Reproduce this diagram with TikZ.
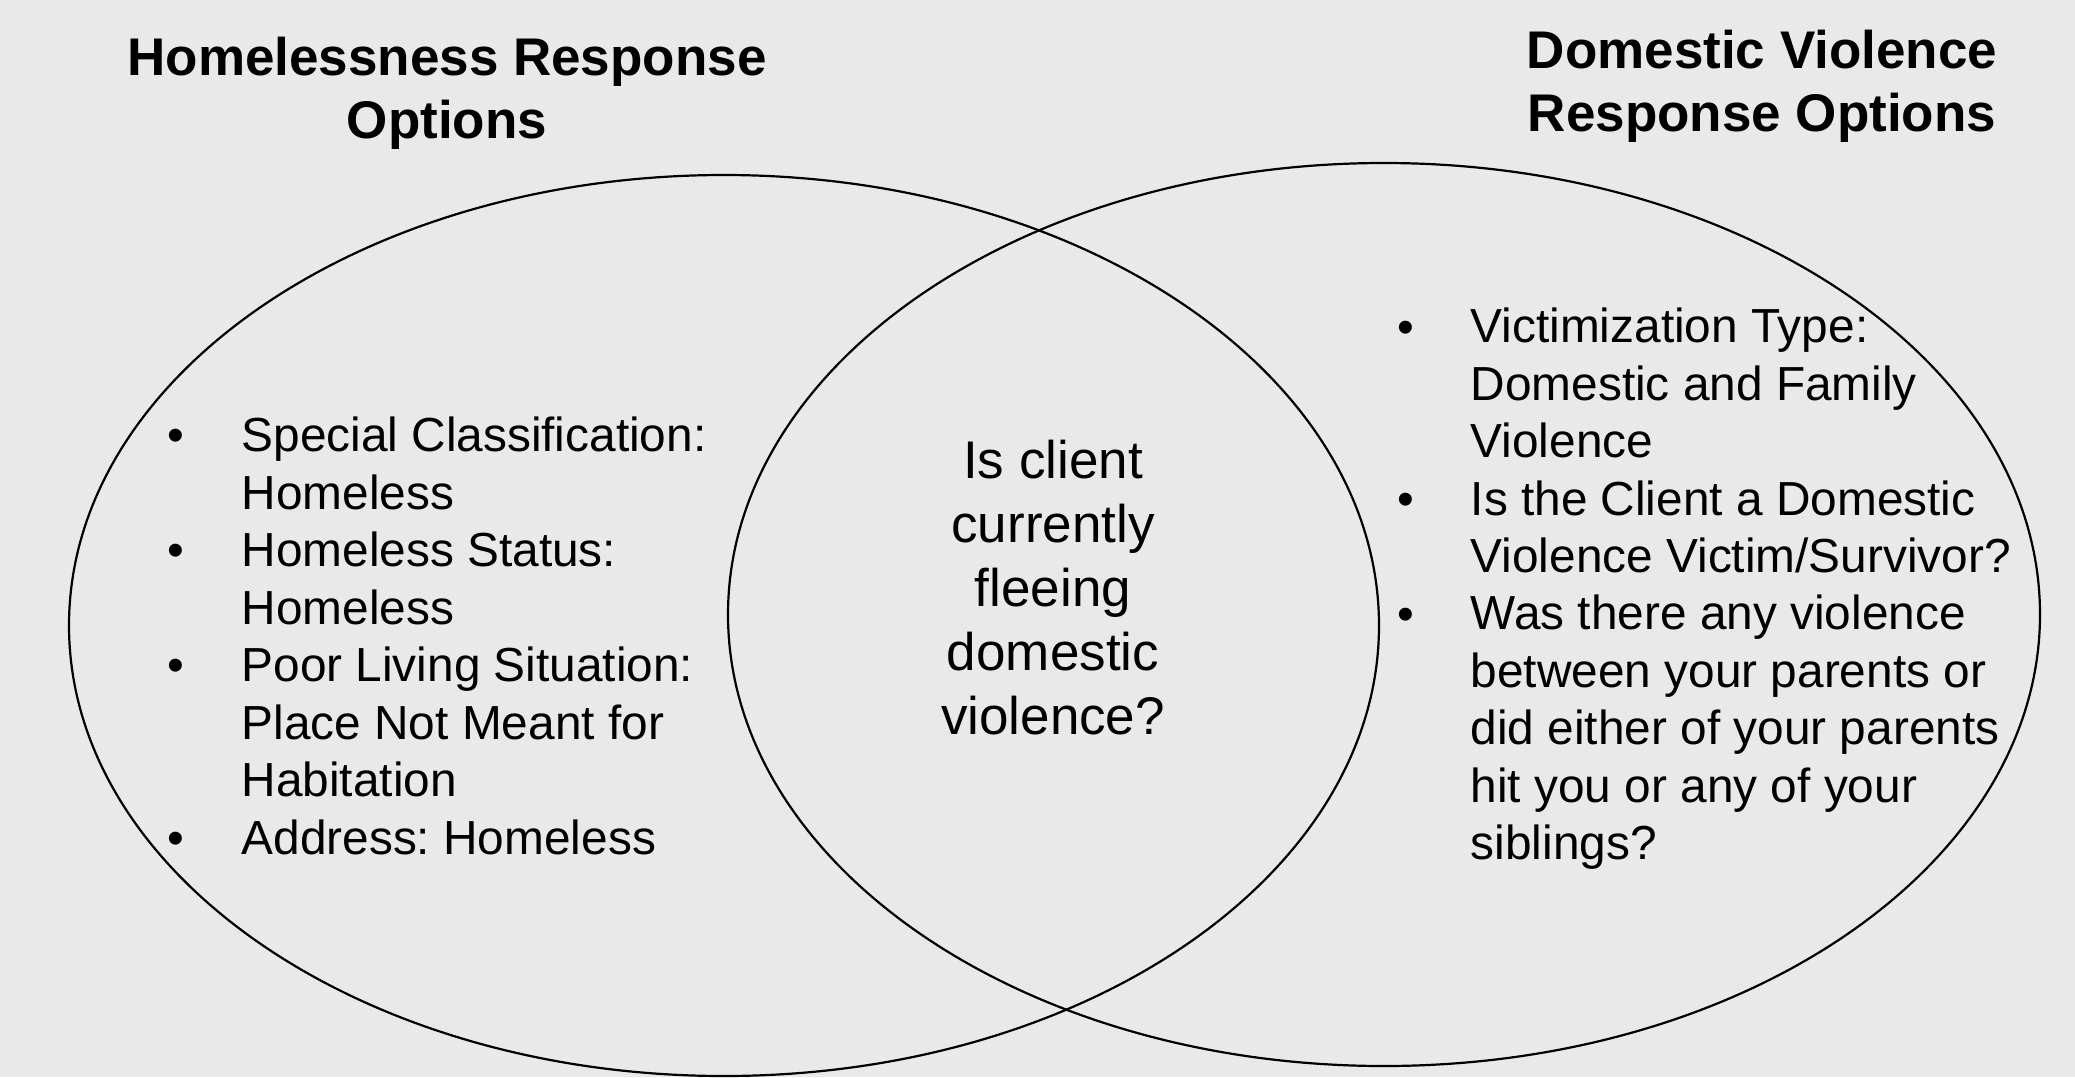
\documentclass[tikz,border=0pt]{standalone}
\usepackage{fontspec}
\setmainfont{Liberation Sans}
\frenchspacing
\usetikzlibrary{shapes.geometric}
\definecolor{paper}{RGB}{233,233,233}
% multi-line nodes sit on the baseline of their last line
\tikzset{
  ring/.style={draw=black, line width=2.2pt, ellipse, inner sep=0pt},
  heading/.style={font={\fontsize{53}{63}\selectfont\bfseries}, align=center, anchor=base, inner sep=0pt},
  question/.style={font={\fontsize{53}{64}\selectfont}, align=center, anchor=base, inner sep=0pt},
  itemtext/.style={font={\fontsize{47.8}{57.45}\selectfont}, align=left, anchor=base west, inner sep=0pt},
  bulletmark/.style={font={\fontsize{47.8}{57.45}\selectfont}, anchor=base, inner sep=0pt},
}
\begin{document}
\begin{tikzpicture}[x=1pt, y=-1pt]
  % page background
  \fill[paper] (0,0) rectangle (2075,1077);
  \useasboundingbox (0,0) rectangle (2075,1077);

  % the two overlapping sets
  \node[ring, minimum width=1310pt, minimum height=901pt] (homeless) at (724,625.5) {};
  \node[ring, minimum width=1312pt, minimum height=903pt] (dv) at (1384,614.5) {};

  % headings
  \node[heading] (hhead) at (447,138) {Homelessness Response\\Options};
  \node[heading] (dhead) at (1762,131.7) {Domestic Violence\\Response Options};

  % shared question in the overlap
  \node[question] (ask) at (1053,734) {Is client\\currently\\fleeing\\domestic\\violence?};

  % homelessness options
  \node[bulletmark] (hb1) at (176,451.7) {•};
  \node[itemtext] (hi1) at (241.4,509.2) {Special Classification:\\Homeless};
  \node[bulletmark] (hb2) at (176,566.7) {•};
  \node[itemtext] (hi2) at (241.4,624.2) {Homeless Status:\\Homeless};
  \node[bulletmark] (hb3) at (176,681.7) {•};
  \node[itemtext] (hi3) at (241.4,796.7) {Poor Living Situation:\\Place Not Meant for\\Habitation};
  \node[bulletmark] (hb4) at (176,854.2) {•};
  \node[itemtext] (hi4) at (241.4,854.2) {Address: Homeless};

  % domestic violence options
  \node[bulletmark] (db1) at (1406,343) {•};
  \node[itemtext] (di1) at (1470.5,457.8) {Victimization Type:\\Domestic and Family\\Violence};
  \node[bulletmark] (db2) at (1406,515.2) {•};
  \node[itemtext] (di2) at (1470.5,572.6) {Is the Client a Domestic\\Violence Victim/Survivor?};
  \node[bulletmark] (db3) at (1406,630) {•};
  \node[itemtext] (di3) at (1470.5,859.6) {Was there any violence\\between your parents or\\did either of your parents\\hit you or any of your\\siblings?};
\end{tikzpicture}
\end{document}
